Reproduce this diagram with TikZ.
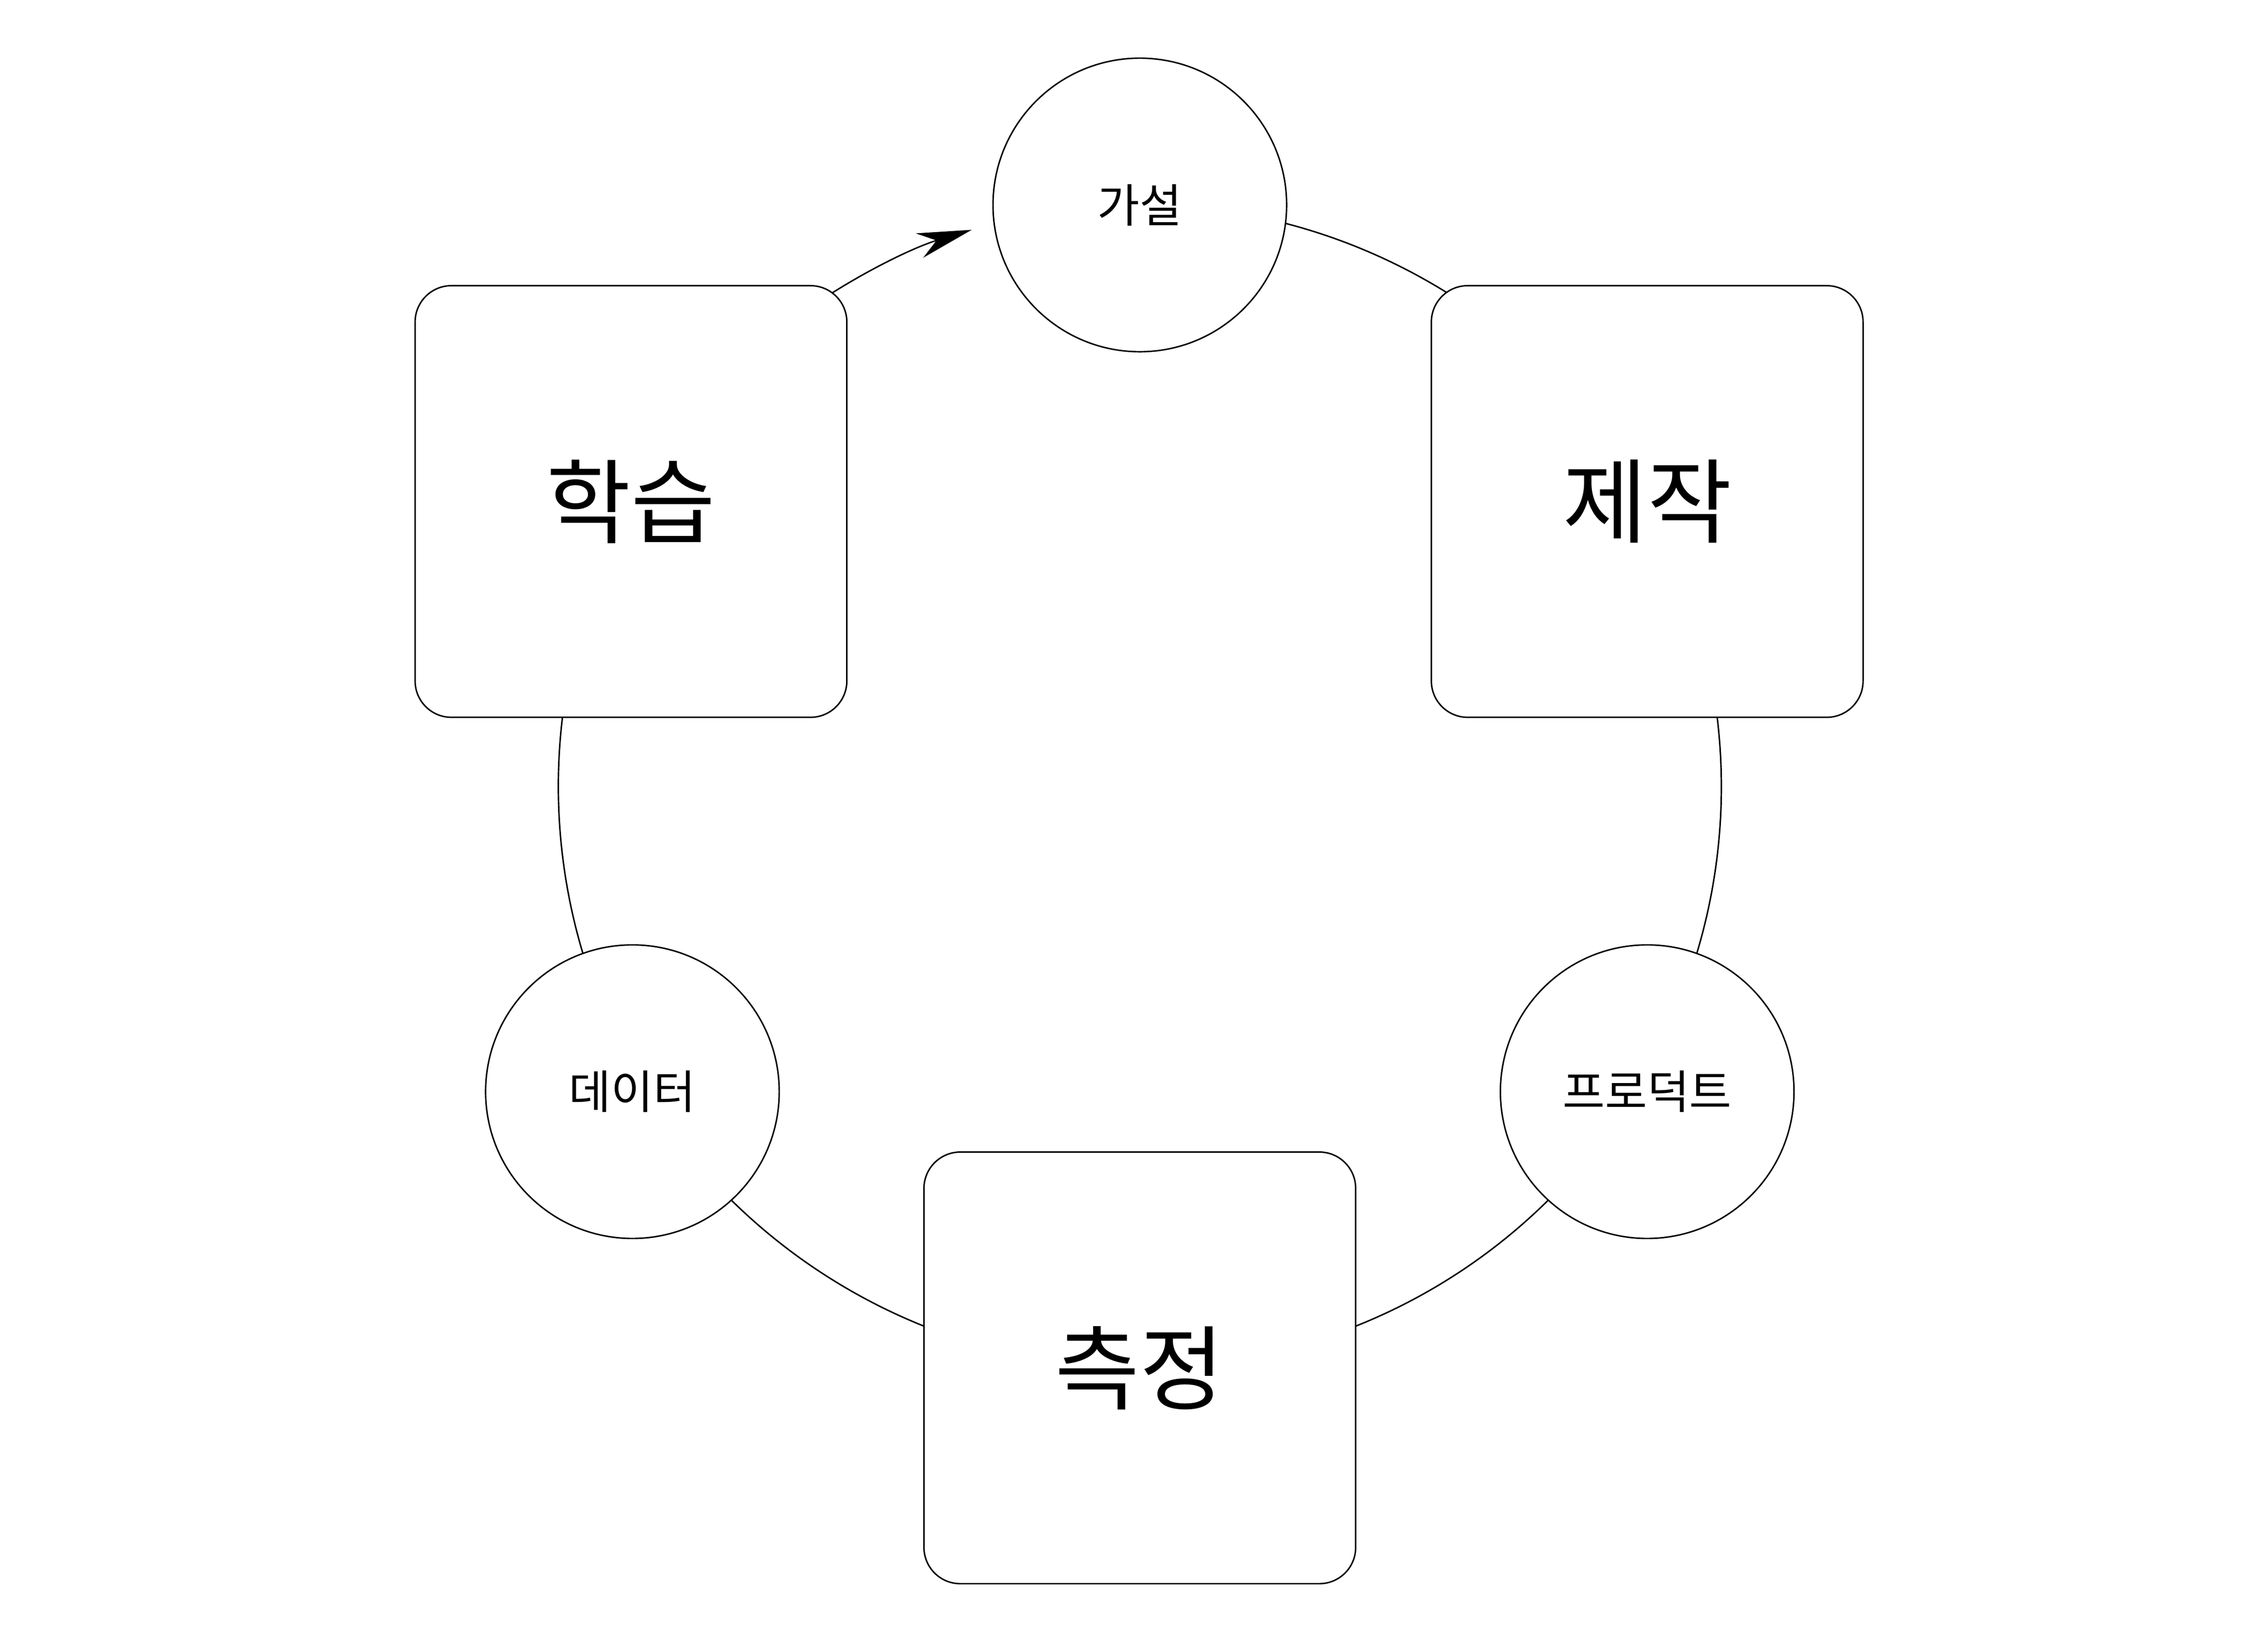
\documentclass[tikz,border=0pt]{standalone}
\usepackage{fontspec}
\setmainfont{Noto Sans CJK KR}
\usetikzlibrary{arrows.meta}
\tikzset{
  phase/.style={draw, fill=white, line width=0.57pt, rounded corners=0.5cm, minimum size=5.94cm, font=\fontsize{36}{40}\selectfont},
  item/.style={draw, fill=white, circle, line width=0.57pt, minimum size=4.04cm, font=\fontsize{18}{22}\selectfont},
  loop/.style={line width=0.57pt}
}
\begin{document}
\begin{tikzpicture}[x=0.02cm,y=-0.02cm]
\useasboundingbox (0,0) rectangle (1560,1124);
\coordinate (c) at (784,541);
% cycle
\draw[loop] (c) ++(-104:400) arc[start angle=104, end angle=-235, radius=8cm];
\draw[loop,-{Stealth[length=0.75cm,width=0.35cm]}] (c) ++(-125:400) arc[start angle=125, end angle=106.8, radius=8cm];
% nodes
\node[item] (hypo) at (784,141) {가설};
\node[phase] (build) at (1133,345) {제작};
\node[item] (product) at (1133,751) {프로덕트};
\node[phase] (measure) at (784,941) {측정};
\node[item] (data) at (435,751) {데이터};
\node[phase] (learn) at (434,345) {학습};
\end{tikzpicture}
\end{document}
